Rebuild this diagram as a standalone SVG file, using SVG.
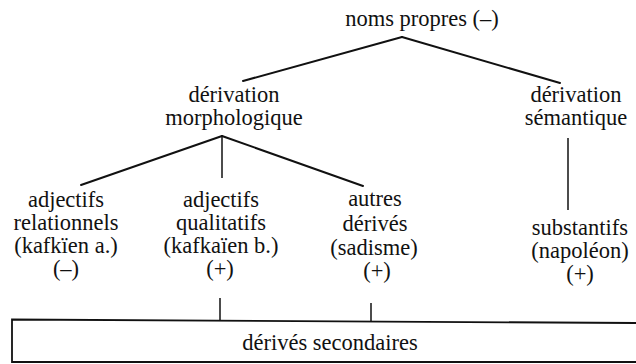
<svg xmlns="http://www.w3.org/2000/svg" width="636" height="364" viewBox="0 0 636 364">
<style>
.e{stroke:#111;stroke-width:2;fill:none;stroke-linecap:round}
.v{stroke:#111;stroke-width:1.5;fill:none}
</style>
<rect width="636" height="364" fill="#fff"/>
<g id="connectors">
<path class="e" d="M402,37 L243,81"/>
<path class="e" d="M402,37 L560,83"/>
<path class="e" d="M222,136 L81,185"/>
<path class="v" d="M222,136 L222,178"/>
<path class="e" d="M222,136 L363,186"/>
<path class="v" d="M568,138 L568,210"/>
<path class="v" d="M220,298 L220,320"/>
<path class="v" d="M371,303 L371,321"/>
</g>
<g font-family="'Liberation Serif', 'DejaVu Serif', serif" font-size="22.5" fill="#111" text-anchor="middle">
<g id="root"><text x="422" y="26">noms propres (–)</text></g>
<g id="morph"><text x="234" y="102">dérivation</text><text x="234" y="125">morphologique</text></g>
<g id="sem"><text x="576" y="102">dérivation</text><text x="576" y="125">sémantique</text></g>
<g id="adjrel"><text x="66" y="207">adjectifs</text><text x="66" y="230">relationnels</text><text x="66" y="253">(kafkïen a.)</text><text x="66" y="276">(–)</text></g>
<g id="adjqual"><text x="221" y="207">adjectifs</text><text x="221" y="230">qualitatifs</text><text x="221" y="253">(kafkaïen b.)</text><text x="220" y="276">(+)</text></g>
<g id="autres"><text x="375" y="206">autres</text><text x="375" y="231">dérivés</text><text x="374" y="255">(sadisme)</text><text x="377" y="278">(+)</text></g>
<g id="subst"><text x="580" y="235">substantifs</text><text x="580" y="258">(napoléon)</text><text x="580" y="281">(+)</text></g>
<g id="secondaires">
<path d="M640,323 L12,319.5 L12,362 L640,362" fill="none" stroke="#111" stroke-width="1.8"/>
<text x="330" y="350">dérivés secondaires</text>
</g>
</g>
</svg>
